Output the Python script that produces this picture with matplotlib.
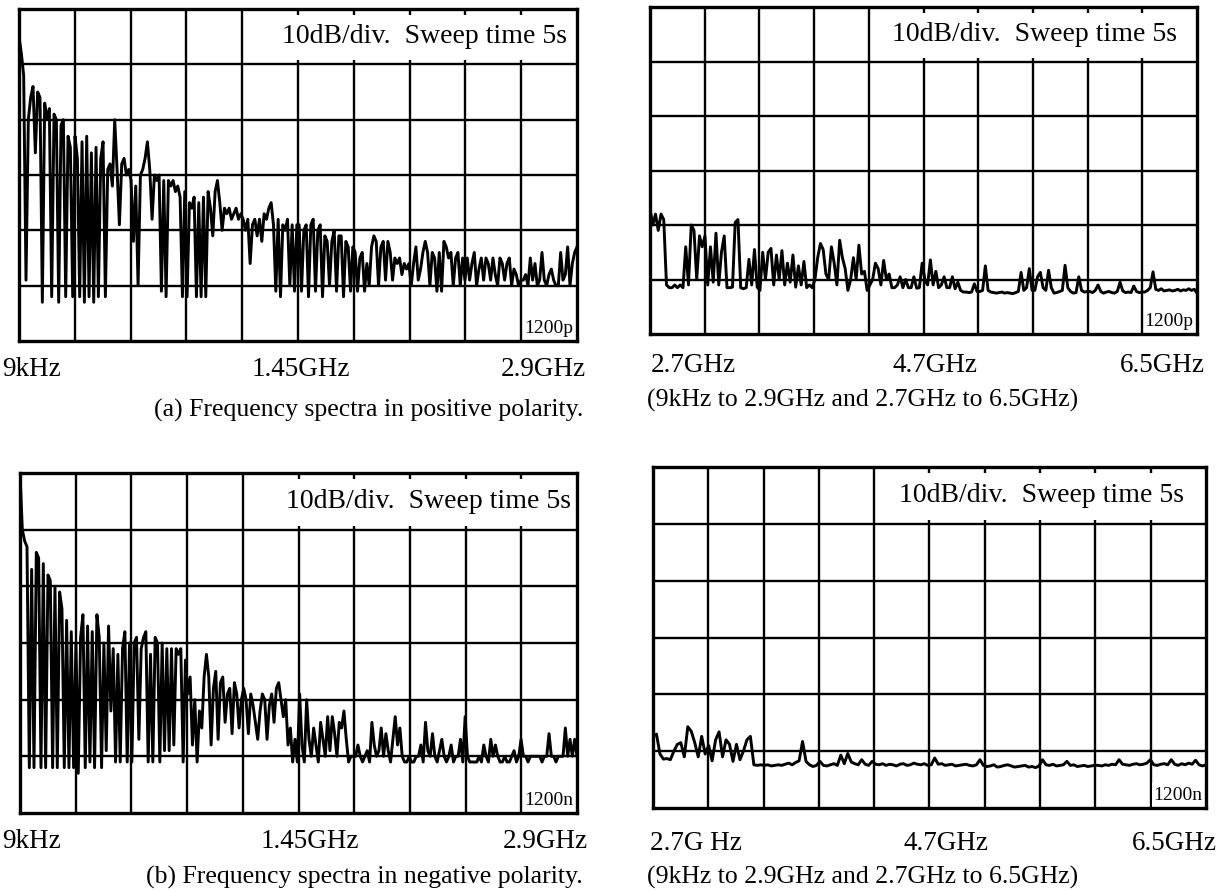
import numpy as np
import matplotlib
matplotlib.use('Agg')
import matplotlib.pyplot as plt
from matplotlib.patches import Rectangle

plt.rcParams['font.family'] = ['Liberation Serif', 'DejaVu Serif']

# Sweep spans (GHz)
low_span = [0.000009, 2.9]
high_span = [2.7, 6.5]

low_labels = ['9kHz', '1.45GHz', '2.9GHz']
high_labels_top = ['2.7GHz', '4.7GHz', '6.5GHz']
high_labels_bot = ['2.7G Hz', '4.7GHz', '6.5GHz']

cap_a = '(a) Frequency spectra in positive polarity.'
cap_b = '(b) Frequency spectra in negative polarity.'
cap_high = '(9kHz to 2.9GHz and 2.7GHz to 6.5GHz)'

# Trace levels read off the screens, dB above bottom graticule (10 dB/div)
# one row per horizontal division
pos_low = [
    55, 52, 48, 11, 40, 44, 46, 34, 45, 44, 7, 43, 40, 42, 8, 41, 40, 7, 39, 40, 8, 37, 35, 8,
    37, 33, 8, 36, 7, 37, 8, 34, 7, 35, 8, 33, 36, 8, 31, 32, 28, 40, 31, 21, 32, 33, 30, 31,
    29, 18, 28, 10, 30, 31, 33, 36, 31, 22, 30, 29, 30, 9, 29, 8, 29, 28, 29, 27, 28, 26, 8, 27,
    8, 25, 24, 26, 8, 25, 8, 26, 8, 27, 24, 19, 27, 29, 25, 20, 24, 23, 24, 22, 23, 24, 22, 23,
    22, 20, 22, 14, 21, 22, 19, 22, 18, 23, 22, 24, 25, 21, 9, 22, 8, 21, 20, 22, 10, 21, 9, 21,
    21, 9, 20, 21, 8, 21, 22, 9, 20, 21, 8, 19, 18, 10, 18, 20, 9, 19, 19, 8, 18, 17, 9, 17,
    16, 9, 15, 16, 9, 14, 10, 17, 19, 18, 10, 17, 18, 11, 18, 16, 11, 15, 14, 15, 12, 14, 13, 14,
    10, 14, 17, 11, 13, 16, 18, 16, 10, 16, 15, 9, 16, 9, 18, 17, 15, 16, 10, 15, 16, 10, 15, 11,
    15, 11, 14, 16, 10, 13, 15, 11, 15, 14, 11, 15, 12, 10, 15, 14, 11, 14, 15, 10, 13, 12, 10, 11,
    11, 12, 10, 15, 11, 14, 10, 11, 16, 11, 10, 12, 13, 11, 10, 10, 16, 11, 12, 17, 10, 14, 16, 17,
]

neg_low = [
    60, 50, 48, 47, 8, 43, 8, 46, 45, 8, 44, 8, 42, 41, 8, 40, 8, 39, 36, 8, 34, 8, 32, 8,
    30, 7, 31, 35, 8, 33, 9, 32, 8, 35, 31, 8, 30, 11, 33, 18, 29, 9, 28, 9, 29, 32, 9, 30,
    9, 30, 31, 13, 29, 31, 32, 9, 28, 9, 31, 30, 9, 30, 11, 29, 11, 29, 12, 29, 28, 29, 9, 27,
    21, 24, 12, 20, 9, 18, 15, 24, 28, 24, 12, 22, 25, 13, 23, 24, 16, 21, 22, 14, 23, 21, 15, 20,
    22, 20, 14, 21, 19, 16, 13, 18, 21, 20, 13, 19, 21, 16, 22, 23, 20, 17, 20, 12, 15, 9, 13, 9,
    21, 12, 9, 20, 13, 10, 15, 12, 9, 16, 13, 10, 17, 11, 17, 14, 10, 16, 15, 18, 13, 9, 10, 10,
    10, 12, 10, 9, 10, 11, 9, 16, 12, 10, 11, 15, 10, 14, 11, 9, 13, 17, 12, 15, 10, 9, 9, 10,
    9, 9, 10, 10, 12, 9, 16, 11, 10, 14, 10, 9, 11, 13, 10, 9, 10, 12, 9, 10, 10, 13, 9, 17,
    10, 9, 9, 9, 9, 10, 9, 12, 10, 9, 13, 10, 12, 10, 9, 9, 10, 9, 9, 10, 11, 9, 10, 13,
    10, 10, 9, 10, 10, 10, 10, 10, 9, 10, 10, 14, 10, 10, 9, 10, 10, 10, 15, 10, 13, 10, 13, 10,
]

pos_high = [
    23, 20, 22, 19, 22, 21, 9, 8.5, 8.5, 9, 8.5, 9, 8.5, 16, 9, 20, 19, 10, 18, 16,
    18, 9, 16, 9.5, 18.5, 9, 15, 18, 8.5, 8.5, 8.6, 20.5, 21, 8.5, 8.3, 8.5, 13.7, 9, 15.5, 8.6,
    8, 15, 10, 15, 15.7, 9, 14.5, 10, 15.3, 9, 13, 9.5, 14.5, 8.6, 12.5, 9, 13.3, 8.5, 9, 8.5,
    10, 14, 16.6, 15.5, 11, 10, 16, 13, 9, 17.2, 14, 12, 8, 10, 14, 10, 16.3, 11, 11.5, 8,
    9, 10, 13, 12, 9, 13.5, 10, 11, 8.5, 8.5, 9, 10.5, 8.5, 10, 8.5, 8.5, 10.5, 8.4, 8.5, 13,
    10, 9, 13.6, 9, 11.5, 8.5, 9, 10.5, 8.5, 8.5, 10.5, 8.3, 9.5, 8, 7.7, 7.7, 7.6, 7.7, 9.2, 7.8,
    7.8, 8, 12.5, 8, 7.7, 7.6, 7.5, 7.6, 7.7, 7.5, 7.6, 7.5, 7.4, 7.6, 7.8, 11.3, 8, 8.5, 12, 8,
    8, 10.5, 11.3, 8.5, 8, 11.7, 8.5, 7.5, 7.6, 7.8, 8, 12.6, 8.5, 7.8, 7.5, 7.6, 10.5, 8, 7.7, 7.8,
    7.8, 7.6, 8, 9, 7.8, 7.5, 7.7, 7.8, 7.6, 7.5, 7.8, 9.5, 7.9, 7.6, 7.7, 7.6, 8.8, 7.8, 7.6, 7.7,
    7.7, 8, 8.5, 11.4, 8.2, 8, 8.3, 7.9, 8, 8.1, 7.9, 8, 8.2, 7.9, 8.1, 8, 8.3, 8, 8.2, 7.5,
]

neg_high = [
    12.6, 13, 9.5, 8.6, 8.7, 8.5, 10, 11.2, 11.5, 9, 14.3, 13.5, 11.5, 9, 12.6, 9.5,
    11, 8.3, 12, 13.4, 9, 12, 11.2, 8.2, 11.2, 8.5, 10, 12, 12.6, 7.6, 7.5, 7.6,
    7.5, 7.6, 7.4, 7.5, 7.6, 7.5, 7.7, 7.9, 7.6, 8, 8.3, 11.7, 8.2, 7.6, 7.3, 7.5,
    8.2, 7.5, 7.4, 7.6, 7.8, 7.5, 9.3, 7.8, 9.6, 8.1, 7.8, 7.6, 8.5, 7.7, 7.5, 8.2,
    7.7, 7.6, 7.8, 7.5, 7.7, 7.6, 7.4, 7.7, 7.8, 7.5, 7.6, 7.9, 7.7, 7.6, 7.8, 7.5,
    7.6, 8.8, 7.7, 7.8, 7.5, 7.6, 7.7, 7.4, 7.5, 7.6, 7.7, 7.5, 7.4, 7.6, 8.5, 7.5,
    7.3, 7.4, 7.6, 7.2, 7.3, 7.5, 7.6, 7.4, 7.2, 7.3, 7.4, 7.5, 7.2, 7.3, 7.1, 7.4,
    8.5, 7.6, 7.5, 7.7, 7.4, 7.5, 7.6, 8.2, 7.5, 7.6, 7.3, 7.4, 7.5, 7.3, 7.4, 7.5,
    7.5, 7.4, 7.6, 7.5, 7.7, 7.6, 8.5, 7.7, 7.6, 7.5, 7.7, 7.8, 7.6, 7.7, 7.9, 8.5,
    7.6, 7.5, 7.7, 7.8, 7.6, 8.5, 7.7, 7.5, 7.8, 7.6, 7.9, 7.7, 8.4, 7.6, 7.4, 7.6,
]

W, H = 1229, 892
fig = plt.figure(figsize=(W / 100, H / 100), dpi=100)


def px(x0, y0, x1, y1):
    # pixel box (top-left origin) -> figure fraction rect
    return [x0 / W, 1 - y1 / H, (x1 - x0) / W, (y1 - y0) / H]


def ftext(x, y, s, ha, size):
    fig.text(x / W, 1 - y / H, s, ha=ha, va='center', fontsize=size)


def screen(rect, span, level, corner, txt_right):
    ax = fig.add_axes(rect)
    freq = np.linspace(span[0], span[1], len(level))
    ax.set_xlim(span[0], span[1])
    ax.set_ylim(0, 60)
    for xv in np.linspace(span[0], span[1], 11)[1:-1]:
        ax.axvline(xv, color='k', lw=1.7, zorder=1)
    for yv in range(10, 60, 10):
        ax.axhline(yv, color='k', lw=1.7, zorder=1)
    # label box hides the grid in the top row
    ax.add_patch(Rectangle((0.417, 5 / 6 + 0.012), 0.579, 1 / 6 - 0.03,
                           transform=ax.transAxes, facecolor='white',
                           edgecolor='none', zorder=2))
    ax.text(txt_right, 11 / 12, '10dB/div.  Sweep time 5s', transform=ax.transAxes,
            ha='right', va='center', fontsize=20, zorder=3)
    ax.add_patch(Rectangle((0.903, 0.004), 0.093, 0.07, transform=ax.transAxes,
                           facecolor='white', edgecolor='none', zorder=2))
    ax.text(0.994, 0.037, corner, transform=ax.transAxes, ha='right', va='center',
            fontsize=14, zorder=3)
    ax.plot(freq, level, color='k', lw=2.1, zorder=4)
    ax.set_xticks([])
    ax.set_yticks([])
    for s in ax.spines.values():
        s.set_linewidth(2.4)
        s.set_zorder(5)
    return ax


screen(px(19, 9, 577, 341), low_span, pos_low, '1200p', 0.982)
screen(px(650, 7, 1197, 334), high_span, pos_high, '1200p', 0.963)
screen(px(20, 473, 577, 813), low_span, neg_low, '1200n', 0.989)
screen(px(653, 467, 1206, 808), high_span, neg_high, '1200n', 0.960)

# frequency labels under each screen
ftext(2, 370, low_labels[0], 'left', 19.5)
ftext(301, 370, low_labels[1], 'center', 19.5)
ftext(586, 370, low_labels[2], 'right', 19.5)
ftext(583, 410, cap_a, 'right', 18.5)

ftext(651, 366, high_labels_top[0], 'left', 19.5)
ftext(935, 366, high_labels_top[1], 'center', 19.5)
ftext(1205, 366, high_labels_top[2], 'right', 19.5)
ftext(647, 400, cap_high, 'left', 18.5)

ftext(2, 842, low_labels[0], 'left', 19.5)
ftext(310, 842, low_labels[1], 'center', 19.5)
ftext(588, 842, low_labels[2], 'right', 19.5)
ftext(583, 877, cap_b, 'right', 18.5)

ftext(650, 844, high_labels_bot[0], 'left', 19.5)
ftext(946, 844, high_labels_bot[1], 'center', 19.5)
ftext(1217, 844, high_labels_bot[2], 'right', 19.5)
ftext(647, 877, cap_high, 'left', 18.5)

fig.savefig('out.png', dpi=100, facecolor='white')
